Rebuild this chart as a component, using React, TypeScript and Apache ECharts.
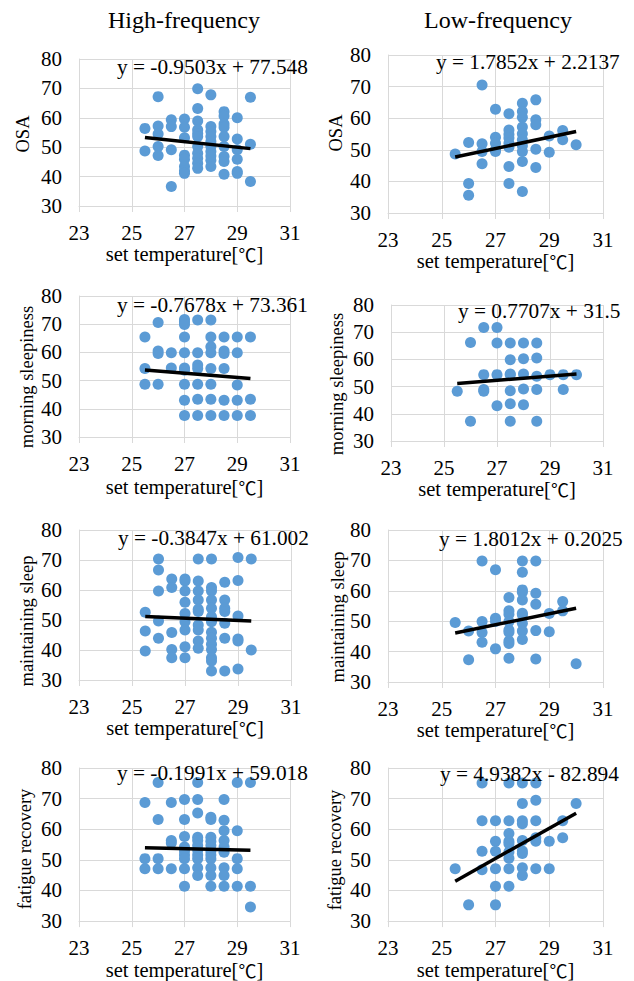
import React, { useEffect, useRef } from "react";
import * as echarts from "echarts";

const columnTitles = ["High-frequency", "Low-frequency"];
const yNames = ["OSA", "OSA", "morning sleepiness", "morning sleepiness", "maintaining sleep", "maintaining sleep", "fatigue recovery", "fatigue recovery"];
const xName = "set temperature[{c|℃}]";
const xMin = 23, xMax = 31, xStep = 2;
const yMin = 30, yMax = 80, yStep = 10;

const hfOSA = [
  [25.5, 56.4], [25.5, 48.7],
  [26, 67.2], [26, 57.2], [26, 54.5], [26, 50.2], [26, 47.2],
  [26.5, 59.3], [26.5, 57], [26.5, 49.1], [26.5, 36.6],
  [27, 59.6], [27, 56.8], [27, 53.2], [27, 47.3], [27, 45.9], [27, 43.4], [27, 42], [27, 41.1],
  [27.5, 69.9], [27.5, 63.2], [27.5, 58.9], [27.5, 55.9], [27.5, 54.7], [27.5, 53.6], [27.5, 50.2], [27.5, 47.9], [27.5, 46.2], [27.5, 44.5], [27.5, 42.8],
  [28, 67.8], [28, 57], [28, 55.3], [28, 53.6], [28, 51.9], [28, 50.2], [28, 48.5], [28, 47], [28, 45.6], [28, 43.4],
  [28.5, 62.1], [28.5, 60.6], [28.5, 57.9], [28.5, 56.8], [28.5, 53.6], [28.5, 50.2], [28.5, 46.8], [28.5, 45.1], [28.5, 40.8],
  [29, 60], [29, 52.8], [29, 49.1], [29, 45.9], [29, 41.7], [29, 41.1],
  [29.5, 67], [29.5, 51], [29.5, 38.3],
];
const lfOSA = [
  [25.5, 48.7],
  [26, 52.3], [26, 39.3], [26, 35.6],
  [26.5, 70.5], [26.5, 51.9], [26.5, 49.5], [26.5, 45.6],
  [27, 62.8], [27, 54], [27, 52.1], [27, 50], [27, 49.5],
  [27.5, 61.4], [27.5, 56.3], [27.5, 54.9], [27.5, 53.7], [27.5, 52.1], [27.5, 50.8], [27.5, 44.7], [27.5, 39.3],
  [28, 64.7], [28, 62.1], [28, 60.3], [28, 57.2], [28, 55.1], [28, 53.2], [28, 51.3], [28, 49.5], [28, 46.3], [28, 36.8],
  [28.5, 65.8], [28.5, 59.5], [28.5, 57.9], [28.5, 50.2], [28.5, 44.4],
  [29, 54.4], [29, 49.2],
  [29.5, 56.1], [29.5, 53.2],
  [30, 51.6],
];
const hfMorning = [
  [25.5, 65.5], [25.5, 54.3], [25.5, 48.7],
  [26, 70.6], [26, 60.5], [26, 59.6], [26, 48.7],
  [26.5, 59.9], [26.5, 54.5],
  [27, 71.7], [27, 70.9], [27, 69.9], [27, 65.5], [27, 59.9], [27, 54.5], [27, 53.7], [27, 48.7], [27, 43], [27, 37.6],
  [27.5, 71.5], [27.5, 59.9], [27.5, 55.5], [27.5, 54.3], [27.5, 48.7], [27.5, 43.4], [27.5, 37.6],
  [28, 71.5], [28, 65.5], [28, 62], [28, 59.9], [28, 54.3], [28, 48.7], [28, 43.4], [28, 37.6],
  [28.5, 65.5], [28.5, 60.5], [28.5, 59.6], [28.5, 54.3], [28.5, 43], [28.5, 37.6],
  [29, 65.5], [29, 59.9], [29, 48.4], [29, 43], [29, 37.6],
  [29.5, 65.5], [29.5, 43.4], [29.5, 37.6],
];
const lfMorning = [
  [25.5, 48.3],
  [26, 66.2], [26, 37.3],
  [26.5, 71.7], [26.5, 54.4], [26.5, 48.9], [26.5, 48.3],
  [27, 71.7], [27, 66], [27, 54.4], [27, 43],
  [27.5, 66], [27.5, 59.9], [27.5, 54.6], [27.5, 54.4], [27.5, 48.5], [27.5, 43.7], [27.5, 37.3],
  [28, 66], [28, 60.2], [28, 54.6], [28, 49.1], [28, 43.3],
  [28.5, 66], [28.5, 60.5], [28.5, 53.8], [28.5, 48.9], [28.5, 37.3],
  [29, 54.4],
  [29.5, 54.4], [29.5, 48.9],
  [30, 54.4],
];
const hfMaintain = [
  [25.5, 52.6], [25.5, 46.3], [25.5, 39.7],
  [26, 70.3], [26, 66.7], [26, 59.7], [26, 49.7], [26, 43.9],
  [26.5, 63.7], [26.5, 60.8], [26.5, 45.8], [26.5, 40.2], [26.5, 37.4],
  [27, 63.7], [27, 63], [27, 59.7], [27, 55.9], [27, 52.2], [27, 49.4], [27, 46.7], [27, 41.1], [27, 37.4],
  [27.5, 70.3], [27.5, 63], [27.5, 59.7], [27.5, 56.7], [27.5, 53.6], [27.5, 52.8], [27.5, 48.3], [27.5, 46.7], [27.5, 43], [27.5, 40.6],
  [28, 70.3], [28, 60.8], [28, 59.7], [28, 56.7], [28, 53.9], [28, 51.1], [28, 49.4], [28, 45.9], [28, 43.9], [28, 41.9], [28, 40.2], [28, 37.4], [28, 36.3], [28, 33],
  [28.5, 62.6], [28.5, 56.7], [28.5, 53.9], [28.5, 52.8], [28.5, 48.9], [28.5, 43.9], [28.5, 33],
  [29, 70.8], [29, 63.2], [29, 51.3], [29, 43.7], [29, 43], [29, 33.7],
  [29.5, 70.3], [29.5, 40],
];
const lfMaintain = [
  [25.5, 49.6],
  [26, 46.8], [26, 37.3],
  [26.5, 69.8], [26.5, 49.9], [26.5, 46.3], [26.5, 43.1],
  [27, 66.9], [27, 51], [27, 49.9], [27, 40.9],
  [27.5, 57.8], [27.5, 53.4], [27.5, 52.3], [27.5, 49.9], [27.5, 47.1], [27.5, 46.4], [27.5, 43.5], [27.5, 42.7], [27.5, 37.8],
  [28, 69.8], [28, 66.1], [28, 60.3], [28, 59.5], [28, 57], [28, 52.6], [28, 52.1], [28, 49.3], [28, 46.8], [28, 44],
  [28.5, 69.8], [28.5, 59.2], [28.5, 55.6], [28.5, 46.9], [28.5, 37.6],
  [29, 52.5], [29, 46.5],
  [29.5, 56.5], [29.5, 53.4],
  [30, 36],
];
const hfFatigue = [
  [25.5, 68.7], [25.5, 50.4], [25.5, 47.1],
  [26, 75.3], [26, 63.2], [26, 50.4], [26, 47.1],
  [26.5, 68.7], [26.5, 56.3], [26.5, 55.5], [26.5, 47.1],
  [27, 69.7], [27, 63.2], [27, 57.6], [27, 54.2], [27, 52.9], [27, 51.6], [27, 50.4], [27, 47.1], [27, 41.4],
  [27.5, 75.3], [27.5, 69.7], [27.5, 65.3], [27.5, 57.4], [27.5, 56.3], [27.5, 54.7], [27.5, 53.2], [27.5, 51.6], [27.5, 50.4], [27.5, 47.4], [27.5, 44.9],
  [28, 63.9], [28, 63.2], [28, 57.4], [28, 56.1], [28, 54.7], [28, 52.9], [28, 51.6], [28, 50.4], [28, 47.4], [28, 44.9], [28, 41.4],
  [28.5, 69.7], [28.5, 62.9], [28.5, 59.5], [28.5, 56.3], [28.5, 54.2], [28.5, 52.5], [28.5, 47.4], [28.5, 44.9], [28.5, 41.4],
  [29, 75.3], [29, 59.5], [29, 50.4], [29, 47.1], [29, 41.4],
  [29.5, 75.3], [29.5, 41.4], [29.5, 34.6],
];
const lfFatigue = [
  [25.5, 47.1],
  [26, 35.3],
  [26.5, 75.1], [26.5, 62.8], [26.5, 52.8], [26.5, 46.8],
  [27, 62.8], [27, 56.1], [27, 52.8], [27, 47.1], [27, 41.4], [27, 35.3],
  [27.5, 75.1], [27.5, 62.8], [27.5, 58.6], [27.5, 56.1], [27.5, 55.3], [27.5, 52.6], [27.5, 50.5], [27.5, 47.1], [27.5, 41.4],
  [28, 75.1], [28, 68.4], [28, 62.8], [28, 61.8], [28, 56.3], [28, 52.9], [28, 52.1], [28, 47.4], [28, 44.9],
  [28.5, 75.1], [28.5, 69.5], [28.5, 62.8], [28.5, 57.2], [28.5, 56.1], [28.5, 47.1],
  [29, 56.1], [29, 47.1],
  [29.5, 62.8], [29.5, 57.2],
  [30, 68.4],
];

const panelData = [hfOSA, lfOSA, hfMorning, lfMorning, hfMaintain, lfMaintain, hfFatigue, lfFatigue];
const slopes = [-0.9503, 1.7852, -0.7678, 0.7707, -0.3847, 1.8012, -0.1991, 4.9382];
const intercepts = [77.548, 2.2137, 73.361, 31.5, 61.002, 0.2025, 59.018, -82.894];
const equations = [
  "y = -0.9503x + 77.548", "y = 1.7852x + 2.2137",
  "y = -0.7678x + 73.361", "y = 0.7707x + 31.5",
  "y = -0.3847x + 61.002", "y = 1.8012x + 0.2025",
  "y = -0.1991x + 59.018", "y = 4.9382x - 82.894",
];

// layout (pixels)
const grids = [
  { left: 79, top: 59, width: 211, height: 147, xGap: 35 },
  { left: 388, top: 55, width: 215, height: 158, xGap: 31 },
  { left: 79, top: 296, width: 211, height: 141, xGap: 40 },
  { left: 391, top: 305, width: 212, height: 136, xGap: 37 },
  { left: 79, top: 530, width: 212, height: 150, xGap: 36 },
  { left: 388, top: 530, width: 215, height: 152, xGap: 37 },
  { left: 79, top: 768, width: 211, height: 159, xGap: 27 },
  { left: 388, top: 768, width: 215, height: 159, xGap: 27 },
];
const yNamePos = [
  [22.5, 134], [336, 133], [27, 377], [337, 384], [27, 621], [338, 617], [25, 849], [335, 850],
];
const eqPos = [
  [117, 67], [436, 62], [117, 305], [458, 311], [118, 538], [439, 539], [117, 773], [440, 774],
];
const titlePos = [[184, 20], [498, 20]];

const FONT = "Liberation Serif, Times New Roman, serif";
const GRID_COLOR = "#d9d9d9";
const DOT = "#5b9bd5";

export default function App() {
  const ref = useRef<HTMLDivElement>(null);
  useEffect(() => {
    if (!ref.current) return;
    const chart = echarts.init(ref.current, undefined, { renderer: "svg" });
    const xAxis: any[] = [];
    const yAxis: any[] = [];
    const series: any[] = [];
    const graphic: any[] = [];
    grids.forEach((g, i) => {
      xAxis.push({
        type: "value", gridIndex: i, min: xMin, max: xMax, interval: xStep,
        name: xName, nameLocation: "middle", nameGap: g.xGap,
        nameTextStyle: {
          fontFamily: FONT, fontSize: 20.5, lineHeight: 20, color: "#000",
          rich: { c: { fontFamily: "Noto Sans CJK JP", fontSize: 18, lineHeight: 20, color: "#000" } },
        },
        axisLine: { show: true, lineStyle: { color: GRID_COLOR, width: 1 } },
        axisTick: { show: true, length: 6, lineStyle: { color: GRID_COLOR } },
        axisLabel: { fontFamily: FONT, fontSize: 21, color: "#000", margin: 16 },
        splitLine: { show: true, lineStyle: { color: GRID_COLOR, width: 1 } },
      });
      yAxis.push({
        type: "value", gridIndex: i, min: yMin, max: yMax, interval: yStep,
        axisLine: { show: true, lineStyle: { color: GRID_COLOR, width: 1 } },
        axisTick: { show: false },
        axisLabel: { fontFamily: FONT, fontSize: 21, color: "#000", margin: 17 },
        splitLine: { show: true, lineStyle: { color: GRID_COLOR, width: 1 } },
      });
      const pts = panelData[i];
      series.push({
        type: "scatter", xAxisIndex: i, yAxisIndex: i, data: pts,
        symbol: "circle", symbolSize: 11, itemStyle: { color: DOT, opacity: 1 },
      });
      const xs = pts.map((p) => p[0]);
      const lo = Math.min(...xs), hi = Math.max(...xs);
      series.push({
        type: "line", xAxisIndex: i, yAxisIndex: i,
        data: [[lo, slopes[i] * lo + intercepts[i]], [hi, slopes[i] * hi + intercepts[i]]],
        symbol: "none", lineStyle: { color: "#000", width: 3.5 }, z: 5,
      });
      graphic.push({
        type: "text", x: eqPos[i][0], y: eqPos[i][1], z: 10,
        style: { text: equations[i], font: `21.3px ${FONT}`, fill: "#000", textVerticalAlign: "middle", textAlign: "left" },
      });
      graphic.push({
        type: "text", x: yNamePos[i][0], y: yNamePos[i][1], rotation: Math.PI / 2,
        style: { text: yNames[i], font: `18.5px ${FONT}`, fill: "#000", textAlign: "center", textVerticalAlign: "middle" },
      });
    });
    columnTitles.forEach((t, i) => {
      graphic.push({
        type: "text", x: titlePos[i][0], y: titlePos[i][1],
        style: { text: t, font: `24px ${FONT}`, fill: "#000", textAlign: "center", textVerticalAlign: "middle" },
      });
    });
    chart.setOption({
      animation: false,
      backgroundColor: "#fff",
      textStyle: { fontFamily: FONT },
      grid: grids.map((g) => ({ left: g.left, top: g.top, width: g.width, height: g.height })),
      xAxis, yAxis, series, graphic,
    });
    return () => chart.dispose();
  }, []);
  return <div ref={ref} style={{ position: "fixed", left: 0, top: 0, width: 634, height: 981 }} />;
}
